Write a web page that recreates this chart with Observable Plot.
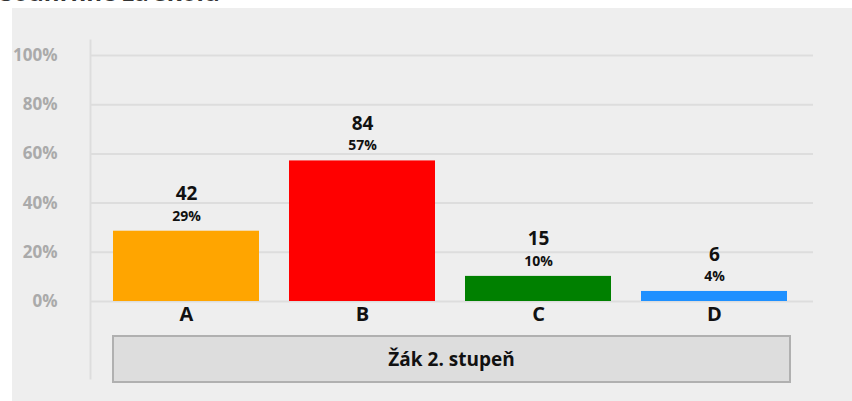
<!DOCTYPE html>
<html>
<head>
<meta charset="utf-8">
<script src="https://cdn.jsdelivr.net/npm/d3@7"></script>
<script src="https://cdn.jsdelivr.net/npm/@observablehq/plot@0.6"></script>
<style>
  body { margin: 0; background: #fff; font-family: "Open Sans", sans-serif; }
  #wrap { position: relative; width: 852px; height: 401px; overflow: hidden; }
  #panel { position: absolute; left: 12px; top: 8px; right: 0; bottom: 0; background: #eeeeee; }
  #title { position: absolute; left: 0; top: -20px; font-size: 24px; line-height: 24px; font-weight: bold; color: #333; white-space: nowrap; }
  #chart { position: absolute; left: 0; top: 0; }
  #group { position: absolute; left: 112px; top: 335px; width: 675px; height: 44px; background: #dddddd;
           border: 2px solid #b0b0b0; display: flex; align-items: center; justify-content: center;
           font-weight: bold; font-size: 19px; color: #111; }
</style>
</head>
<body>
<div id="wrap">
  <div id="title"></div>
  <div id="panel"></div>
  <div id="chart"></div>
  <div id="group"></div>
</div>
<script>
const titleText = "Souhrnně za školu";
const groupLabel = "Žák 2. stupeň";
const categories = ["A", "B", "C", "D"];
const counts = [42, 84, 15, 6];
const colors = ["#FFA500", "#FF0000", "#008000", "#1E90FF"];
const yTicks = [0, 0.2, 0.4, 0.6, 0.8, 1];

document.getElementById("title").textContent = titleText;
document.getElementById("group").textContent = groupLabel;

const total = d3.sum(counts);
const data = categories.map((c, i) => ({cat: c, n: counts[i], p: counts[i] / total, color: colors[i]}));

const chart = Plot.plot({
  width: 852,
  height: 401,
  marginLeft: 97,
  marginRight: 48,
  marginTop: 55,
  marginBottom: 100,
  style: {background: "transparent", fontFamily: "Open Sans, sans-serif"},
  x: {domain: categories, paddingInner: 0.17, paddingOuter: 0.085, label: null},
  y: {domain: [0, 1], label: null},
  marks: [
    Plot.frame({anchor: "left", stroke: "#dddddd", strokeWidth: 2, insetLeft: -7, insetTop: -15, insetBottom: -77, strokeOpacity: 1}),
    Plot.ruleY(yTicks, {stroke: "#dddddd", strokeWidth: 2, insetLeft: -7, insetRight: -9}),
    Plot.axisY({ticks: yTicks, tickFormat: d3.format(".0%"), tickSize: 0, tickPadding: 40,
                fontWeight: "bold", fontSize: 17, fill: "#aaaaaa", label: null}),
    Plot.axisX({tickSize: 0, tickPadding: 5, fontWeight: "bold", fontSize: 20, fill: "#111", label: null}),
    Plot.barY(data, {x: "cat", y: "p", fill: "color"}),
    Plot.text(data, {x: "cat", y: "p", text: d => String(d.n), dy: -37, fontWeight: "bold", fontSize: 19, fill: "#111"}),
    Plot.text(data, {x: "cat", y: "p", text: d => d3.format(".0%")(d.p), dy: -15, fontWeight: "bold", fontSize: 14, fill: "#111", letterSpacing: "0.5px"})
  ]
});
document.getElementById("chart").appendChild(chart);
</script>
</body>
</html>
